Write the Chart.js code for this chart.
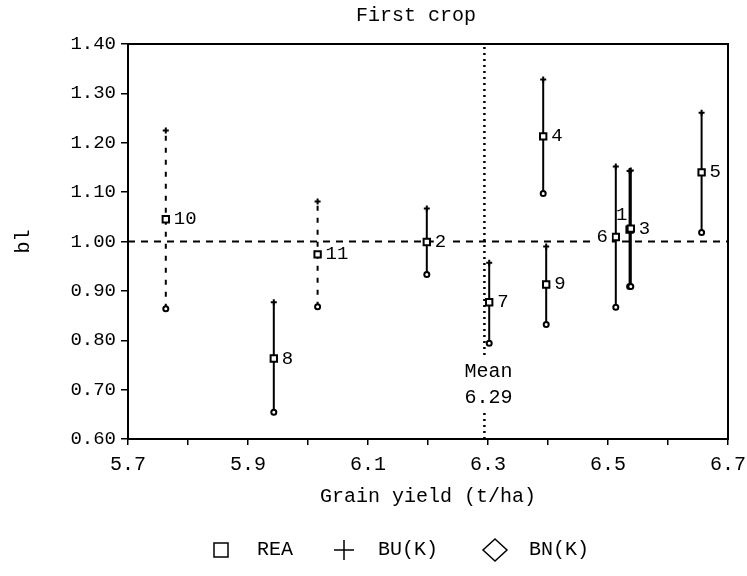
<!DOCTYPE html>
<html>
<head>
<meta charset="utf-8">
<script src="https://cdn.jsdelivr.net/npm/chart.js@4.4.0/dist/chart.umd.min.js"></script>
<style>
  html, body { margin: 0; padding: 0; background: #fff; }
  #wrap { width: 747px; height: 576px; }
</style>
</head>
<body>
<div id="wrap"><canvas id="mycanvas" width="747" height="576"></canvas></div>
<script>
// entries 1..11
var entries = ['1', '2', '3', '4', '5', '6', '7', '8', '9', '10', '11'];
var grainYield = [6.536, 6.198, 6.538, 6.392, 6.656, 6.513, 6.302, 5.943, 6.397, 5.763, 6.016];
var rea = [1.024, 0.999, 1.026, 1.213, 1.140, 1.009, 0.877, 0.763, 0.913, 1.045, 0.974];
var buK = [1.143, 1.067, 1.144, 1.328, 1.261, 1.152, 0.957, 0.877, 0.990, 1.225, 1.081];
var bnK = [0.909, 0.933, 0.909, 1.097, 1.018, 0.867, 0.794, 0.654, 0.832, 0.864, 0.868];
var dashedEntries = ['10', '11'];
var meanYield = 6.294;
var meanText = '6.29';
var refB = 1.00;
var seriesNames = ['REA', 'BU(K)', 'BN(K)'];

var FONT = "'Liberation Mono', 'DejaVu Sans Mono', monospace";

var reaPts = [], buPts = [], bnPts = [], solidBars = [], dashBars = [];
for (var i in entries) {
  reaPts.push({x: grainYield[i], y: rea[i]});
  buPts.push({x: grainYield[i], y: buK[i]});
  bnPts.push({x: grainYield[i], y: bnK[i]});
  var target = dashedEntries.indexOf(entries[i]) >= 0 ? dashBars : solidBars;
  target.push({x: grainYield[i], y: bnK[i]});
  target.push({x: grainYield[i], y: buK[i]});
  target.push({x: grainYield[i], y: null});
}

// label offsets (px) relative to REA marker
var labelPos = {
  '1': {dx: -8, dy: -15, align: 'center', plain: true},
  '6': {dx: -8, dy: 0, align: 'right'}
};

// legend layout: symbol centre x, text start x
var legendSlots = [
  {sym: 'rect', cx: 221, tx: 257},
  {sym: 'cross', cx: 344, tx: 378},
  {sym: 'rectRot', cx: 495, tx: 529}
];

var extras = {
  id: 'extras',
  beforeDatasetsDraw: function(chart) {
    var a = chart.chartArea, ctx = chart.ctx;
    ctx.save();
    ctx.strokeStyle = '#000';
    ctx.lineWidth = 2;
    ctx.strokeRect(a.left, a.top, a.right - a.left, a.bottom - a.top);
    ctx.restore();
  },
  afterDatasetsDraw: function(chart) {
    var ctx = chart.ctx;
    var meta = chart.getDatasetMeta(0);
    ctx.save();
    ctx.font = "19px " + FONT;
    ctx.textBaseline = 'middle';
    for (var i = 0; i < entries.length; i++) {
      var pt = meta.data[i];
      var p = labelPos[entries[i]] || {dx: 8, dy: 0, align: 'left'};
      var tx = pt.x + p.dx, ty = pt.y + p.dy;
      var w = ctx.measureText(entries[i]).width;
      if (!p.plain) {
        var left = p.align === 'left' ? tx : (p.align === 'right' ? tx - w : tx - w / 2);
        ctx.fillStyle = '#fff';
        ctx.fillRect(left - 1, ty - 8, w + 5, 16);
      }
      ctx.fillStyle = '#000';
      ctx.textAlign = p.align;
      ctx.fillText(entries[i], tx, ty);
    }
    var xs = chart.scales.x, ys = chart.scales.y;
    var mx = xs.getPixelForValue(meanYield) + 4;
    var my = ys.getPixelForValue(0.71);
    ctx.textAlign = 'center';
    ctx.font = "20px " + FONT;
    ctx.fillStyle = '#fff';
    ctx.fillRect(mx - 28, my - 28, 56, 56);
    ctx.fillStyle = '#000';
    ctx.fillText('Mean', mx, my - 13);
    ctx.fillText(meanText, mx, my + 13);

    // legend
    var ly = chart.height - 26;
    ctx.strokeStyle = '#000';
    ctx.lineWidth = 1.5;
    ctx.textAlign = 'left';
    for (var k = 0; k < legendSlots.length; k++) {
      var s = legendSlots[k];
      ctx.beginPath();
      if (s.sym === 'rect') {
        ctx.rect(s.cx - 7, ly - 7, 14, 14);
      } else if (s.sym === 'cross') {
        ctx.moveTo(s.cx - 10, ly); ctx.lineTo(s.cx + 10, ly);
        ctx.moveTo(s.cx, ly - 10); ctx.lineTo(s.cx, ly + 10);
      } else {
        ctx.moveTo(s.cx, ly - 11); ctx.lineTo(s.cx + 12, ly);
        ctx.lineTo(s.cx, ly + 11); ctx.lineTo(s.cx - 12, ly); ctx.closePath();
      }
      ctx.stroke();
      ctx.fillText(seriesNames[k], s.tx, ly);
    }
    ctx.restore();
  }
};

var ctx = document.getElementById('mycanvas');
Chart.defaults.color = '#000';
Chart.defaults.font.family = FONT;

var chartdata = {
  datasets: [
    {
      label: seriesNames[0],
      data: reaPts,
      pointStyle: 'rect',
      pointRadius: 4.5,
      backgroundColor: '#fff',
      borderColor: '#000',
      borderWidth: 2
    },
    {
      label: seriesNames[1],
      data: buPts,
      pointStyle: 'cross',
      pointRadius: 3,
      backgroundColor: '#fff',
      borderColor: '#000',
      borderWidth: 2
    },
    {
      label: seriesNames[2],
      data: bnPts,
      pointStyle: 'circle',
      pointRadius: 2.5,
      backgroundColor: '#fff',
      borderColor: '#000',
      borderWidth: 2
    },
    {
      label: 'bars',
      data: solidBars,
      showLine: true,
      spanGaps: false,
      pointRadius: 0,
      borderColor: '#000',
      borderWidth: 2
    },
    {
      label: 'bars dashed',
      data: dashBars,
      showLine: true,
      spanGaps: false,
      pointRadius: 0,
      borderColor: '#000',
      borderWidth: 2,
      borderDash: [5, 7]
    },
    {
      label: 'ref',
      data: [{x: 5.7, y: refB}, {x: 6.7, y: refB}],
      showLine: true,
      pointRadius: 0,
      borderColor: '#000',
      borderWidth: 2,
      borderDash: [7, 6]
    },
    {
      label: 'mean',
      data: [{x: meanYield, y: 0.6}, {x: meanYield, y: 1.4}],
      showLine: true,
      pointRadius: 0,
      borderColor: '#000',
      borderWidth: 2.5,
      borderDash: [2, 4]
    }
  ]
};

var LineGraph = new Chart(ctx, {
  type: 'scatter',
  data: chartdata,
  plugins: [extras],
  options: {
    responsive: false,
    animation: false,
    layout: { padding: { left: 0, right: 19, top: 0, bottom: 75 } },
    plugins: {
      tooltip: { enabled: false },
      legend: { display: false },
      title: {
        display: true,
        fullSize: false,
        text: 'First crop  ',
        font: { size: 20, weight: 'normal' },
        padding: { top: 4, bottom: 16 }
      }
    },
    scales: {
      x: {
        type: 'linear',
        min: 5.7,
        max: 6.7,
        afterFit: function(s) { s.height = 62; s.paddingRight = 0; s.paddingLeft = 0; },
        border: { display: true, color: '#000', width: 2 },
        grid: { display: true, drawOnChartArea: false, drawTicks: true, tickLength: 6, color: '#000', lineWidth: 1.5 },
        ticks: {
          stepSize: 0.1,
          padding: 8,
          maxRotation: 0,
          autoSkip: false,
          font: { size: 20 },
          callback: function(v) {
            var k = Math.round(v * 10);
            return (k - 57) % 2 === 0 ? (k / 10).toFixed(1) : '';
          }
        },
        title: {
          display: true,
          text: 'Grain yield (t/ha)',
          font: { size: 20, lineHeight: 0.45 },
          padding: { top: 0, bottom: 0 }
        }
      },
      y: {
        min: 0.6,
        max: 1.4,
        afterFit: function(s) { s.width = 128; },
        border: { display: true, color: '#000', width: 2 },
        grid: { display: true, drawOnChartArea: false, drawTicks: true, tickLength: 7, color: '#000', lineWidth: 1.5 },
        ticks: {
          stepSize: 0.1,
          padding: 5,
          font: { size: 19 },
          callback: function(v) { return v.toFixed(2); }
        },
        title: {
          display: true,
          text: 'bl',
          font: { size: 20 },
          padding: { top: 12, bottom: 0 }
        }
      }
    }
  }
});
</script>
</body>
</html>
